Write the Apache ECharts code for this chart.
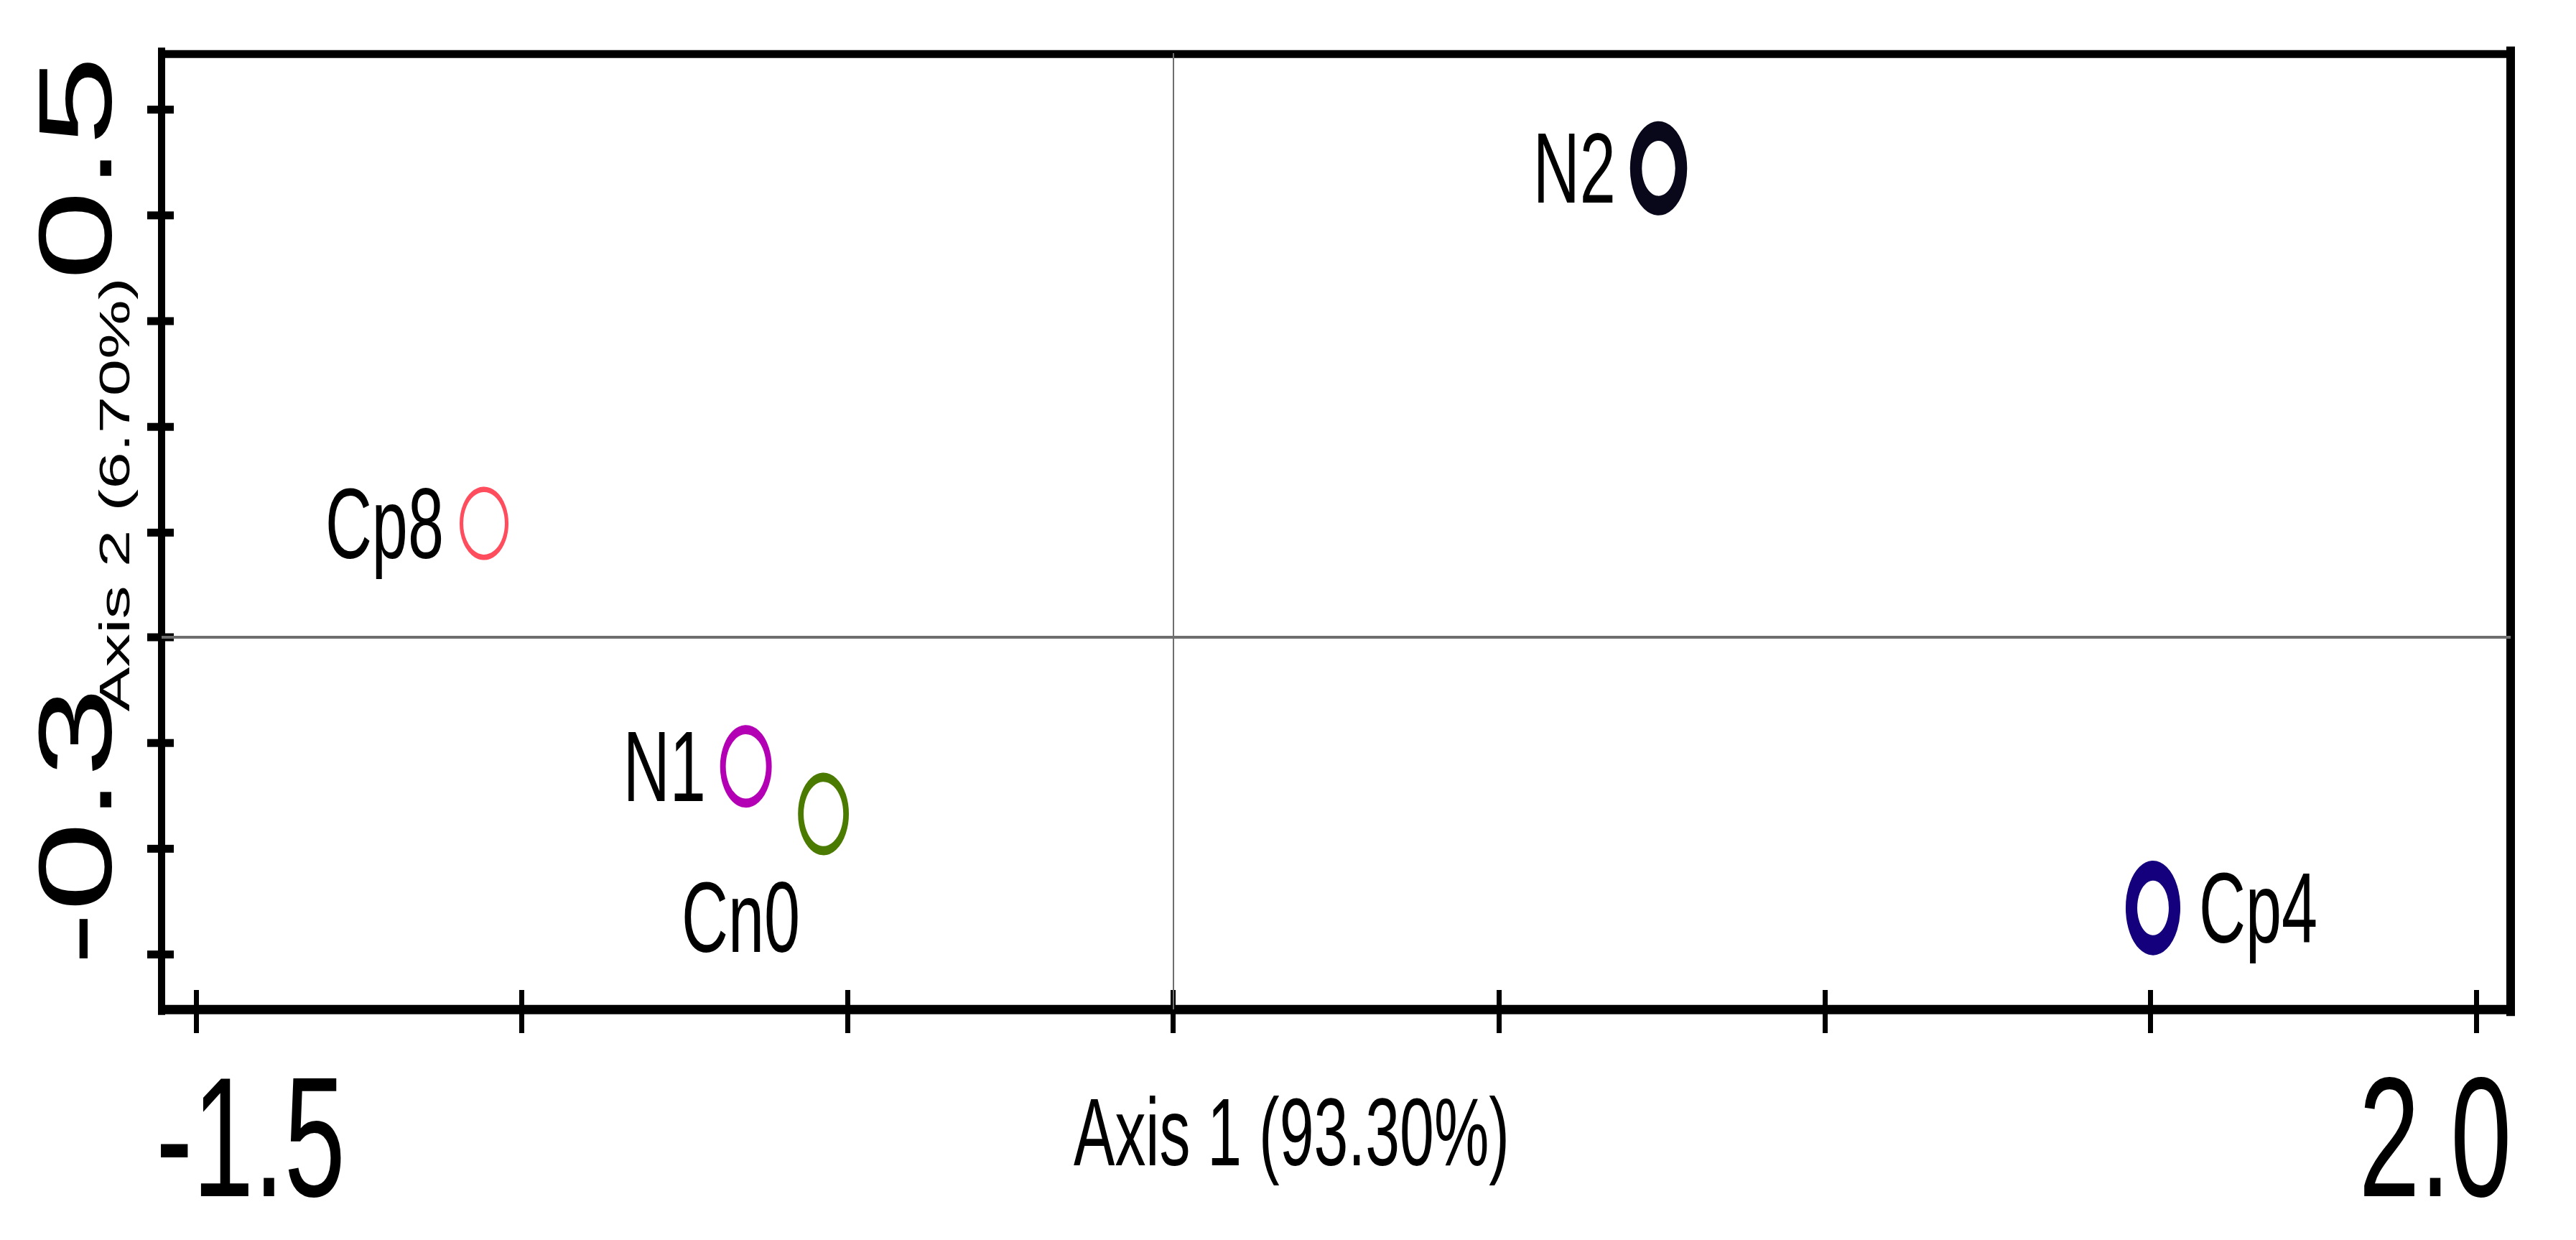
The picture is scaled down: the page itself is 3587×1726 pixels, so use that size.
<!DOCTYPE html>
<html>
<head>
<meta charset="utf-8">
<title>PCoA</title>
<script src="https://cdn.jsdelivr.net/npm/echarts@6/dist/echarts.min.js"></script>
<style>
  html, body { margin: 0; padding: 0; background: #ffffff; }
  #wrap { width: 3587px; height: 1726px; overflow: hidden; }
  /* 原图被纵向拉伸过，这里整体按比例拉伸 */
  #chartPcoa { width: 3587px; height: 1114px; transform-origin: 0 0; transform: scaleY(1.549372); }
</style>
</head>
<body>
<div id="wrap"><div id="chartPcoa"></div></div>
<script>
// 样本名与坐标 (Axis 1, Axis 2)
var names = ['Cp8', 'N1', 'Cn0', 'N2', 'Cp4']
var axis1 = [-1.058, -0.656, -0.537, 0.745, 1.504]
var axis2 = [0.108, -0.122, -0.167, 0.444, -0.256]

// 刻度与刻度标签
var xTicks = [-1.5, -1.0, -0.5, 0, 0.5, 1.0, 1.5, 2.0]
var yTicks = [-0.3, -0.2, -0.1, 0, 0.1, 0.2, 0.3, 0.4, 0.5]
var xTickLabels = [-1.5, 2.0]
var yTickLabels = [0.5, -0.3]

var xTitle = 'Axis 1 (93.30%)'
var yTitle = 'Axis 2 (6.70%)'

var S = 1726 / 1114 // 纵向拉伸比例
function sy(v) { return v / S }

var font = "'Liberation Sans', Arial, sans-serif"

// 每个样本的样式
var markStyle = {
  Cp8: { color: '#ff4d5e', width: 5, size: [63, 61], pos: 'left', dist: 22, offset: [0, 0] },
  N1: { color: '#b400b4', width: 8, size: [64, 66], pos: 'left', dist: 20, offset: [0, 0] },
  Cn0: { color: '#4b7a00', width: 8, size: [63, 66], pos: 'bottom', dist: 11, offset: [-115, 0] },
  N2: { color: '#08081a', width: 17, size: [63, 67], pos: 'left', dist: 20, offset: [0, 0] },
  Cp4: { color: '#14007c', width: 17, size: [60, 67], pos: 'right', dist: 26, offset: [0, 0] }
}

var points = names.map(function (n, i) {
  var s = markStyle[n]
  return {
    name: n,
    value: [axis1[i], axis2[i]],
    symbolSize: s.size,
    itemStyle: { color: 'rgba(0,0,0,0)', borderColor: s.color, borderWidth: s.width, opacity: 1 },
    label: { position: s.pos, distance: s.dist, offset: s.offset }
  }
})

var xRange = [-1.553, 2.053]
var yRange = [-0.352, 0.553]

function plainAxis(extra) {
  var a = {
    type: 'value',
    axisLine: { show: false, onZero: false },
    axisTick: { show: false },
    axisLabel: { show: false },
    splitLine: { show: false }
  }
  for (var k in extra) a[k] = extra[k]
  return a
}

var option = {
  animation: false,
  backgroundColor: '#ffffff',
  grid: {
    left: 225,
    right: 91,
    top: sy(74),
    bottom: 1114 - sy(1405),
    outerBoundsMode: 'none',
    containLabel: false,
    show: false
  },
  xAxis: [
    plainAxis({
      position: 'bottom',
      min: xRange[0],
      max: xRange[1],
      name: xTitle,
      nameLocation: 'middle',
      nameGap: 67,
      nameMoveOverlap: false,
      nameTextStyle: {
        fontFamily: font,
        fontSize: 86,
        color: '#000',
        padding: [0, 124, 0, 0]
      },
      axisLine: { show: true, onZero: false, lineStyle: { color: '#000', width: sy(13), cap: 'square' } },
      axisTick: {
        show: true,
        length: sy(33),
        customValues: xTicks,
        lineStyle: { color: '#000', width: 7 }
      },
      axisLabel: {
        show: true,
        margin: 38,
        customValues: xTickLabels,
        formatter: function (v) {
          return v < 0 ? '{lo|' + v.toFixed(1) + '}' : '{hi|' + v.toFixed(1) + '}'
        },
        rich: {
          lo: { fontFamily: font, fontSize: 153, color: '#000', padding: [0, 0, 0, 152] },
          hi: { fontFamily: font, fontSize: 153, color: '#000', padding: [0, 114, 0, 0] }
        }
      }
    }),
    // 向内的刻度
    plainAxis({
      position: 'bottom',
      min: xRange[0],
      max: xRange[1],
      axisTick: {
        show: true,
        inside: true,
        length: sy(27),
        customValues: xTicks,
        lineStyle: { color: '#000', width: 7 }
      }
    }),
    // 上边框
    plainAxis({
      position: 'top',
      min: xRange[0],
      max: xRange[1],
      axisLine: { show: true, onZero: false, lineStyle: { color: '#000', width: sy(11), cap: 'square' } }
    })
  ],
  yAxis: [
    plainAxis({
      position: 'left',
      min: yRange[0],
      max: yRange[1],
      name: yTitle,
      nameLocation: 'middle',
      nameGap: 36,
      nameMoveOverlap: false,
      nameTextStyle: {
        fontFamily: font,
        fontSize: 60,
        color: '#000',
        padding: [0, 0, 0, 66]
      },
      axisLine: { show: true, onZero: false, lineStyle: { color: '#000', width: 10, cap: 'square' } },
      axisTick: {
        show: true,
        length: 20,
        customValues: yTicks,
        lineStyle: { color: '#000', width: sy(11) }
      },
      axisLabel: {
        show: true,
        rotate: 90,
        margin: 48,
        customValues: yTickLabels,
        formatter: function (v) {
          return v > 0 ? '{hi|' + v.toFixed(1) + '}' : '{lo|' + v.toFixed(1) + '}'
        },
        rich: {
          hi: { fontFamily: font, fontSize: 145, color: '#000', padding: [0, 106, 0, 0] },
          lo: { fontFamily: font, fontSize: 145, color: '#000', padding: [0, 0, 0, 230] }
        }
      }
    }),
    plainAxis({
      position: 'left',
      min: yRange[0],
      max: yRange[1],
      axisTick: {
        show: true,
        inside: true,
        length: 17,
        customValues: yTicks,
        lineStyle: { color: '#000', width: sy(11) }
      }
    }),
    // 右边框
    plainAxis({
      position: 'right',
      min: yRange[0],
      max: yRange[1],
      axisLine: { show: true, onZero: false, lineStyle: { color: '#000', width: 12, cap: 'square' } }
    })
  ],
  series: [
    {
      type: 'scatter',
      xAxisIndex: 0,
      yAxisIndex: 0,
      symbol: 'circle',
      itemStyle: { opacity: 1 },
      data: points,
      label: {
        show: true,
        formatter: '{b}',
        fontFamily: font,
        fontSize: 90,
        color: '#000'
      },
      markLine: {
        silent: true,
        symbol: 'none',
        label: { show: false },
        data: [
          { xAxis: 0, lineStyle: { color: '#6e6e6e', width: 2, type: 'solid', opacity: 1 } },
          { yAxis: 0, lineStyle: { color: '#6e6e6e', width: sy(4), type: 'solid', opacity: 1 } }
        ]
      }
    }
  ]
}

var myChart = echarts.init(document.getElementById('chartPcoa'), null, { renderer: 'svg' })
myChart.setOption(option)
window.addEventListener('resize', function () {
  myChart.resize()
})
</script>
</body>
</html>
